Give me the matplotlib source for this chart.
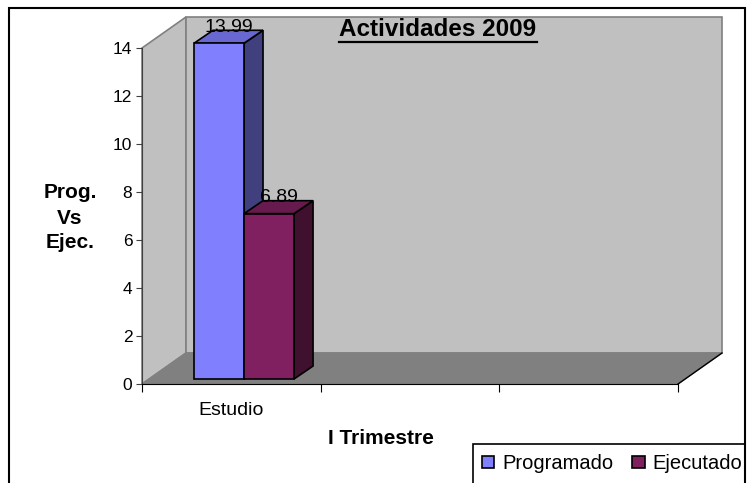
import matplotlib.pyplot as plt
from matplotlib.patches import Polygon, Rectangle, Patch
from matplotlib.lines import Line2D

plt.rcParams['font.family'] = ['Liberation Sans', 'DejaVu Sans']

categories = ['Estudio', '', '']
series = ['Programado', 'Ejecutado']
values = [[13.99], [6.89]]
front_cols = ['#8080ff', '#802060']
side_cols = ['#40407f', '#40102f']
top_cols = ['#6868d0', '#661a4d']
yticks = [0, 2, 4, 6, 8, 10, 12, 14]

W, H = 749, 483
fig = plt.figure(figsize=(W / 100, H / 100), dpi=100)
ax = fig.add_axes([142 / W, (H - 384) / H, 536 / W, 336 / H])
ax.set_xlim(0, 3)
ax.set_ylim(0, 14)

# depth of the 3d box in data units
ddx = 44 * 3 / 536
ddy = 31 / 24

# walls and floor
wall = dict(clip_on=False, edgecolor='#808080', lw=1.2)
ax.add_patch(Polygon([(0, 0), (0, 14), (ddx, 14 + ddy), (ddx, ddy)],
                     facecolor='#c0c0c0', zorder=0, **wall))
ax.add_patch(Polygon([(ddx, ddy), (ddx, 14 + ddy), (3 + ddx, 14 + ddy), (3 + ddx, ddy)],
                     facecolor='#c0c0c0', zorder=0, **wall))
ax.add_patch(Polygon([(0, 0), (3, 0), (3 + ddx, ddy), (ddx, ddy)],
                     facecolor='#808080', zorder=0.5, clip_on=False,
                     edgecolor='#808080', lw=1))
ax.plot([3, 3 + ddx], [0, ddy], color='black', lw=1, clip_on=False, zorder=1)

# 3d columns
bw = 0.28
bdx, bdy = 19 * 3 / 536, 0.54
base = 0.208
first = 0.291
for s in range(len(series)):
    for c, v in enumerate(values[s]):
        x0 = c + first + s * bw
        top = base + v
        ek = dict(edgecolor='black', lw=1.2, clip_on=False, zorder=2 + s)
        ax.add_patch(Polygon([(x0 + bw, base), (x0 + bw, top), (x0 + bw + bdx, top + bdy),
                              (x0 + bw + bdx, base + bdy)], facecolor=side_cols[s], **ek))
        ax.add_patch(Polygon([(x0, top), (x0 + bw, top), (x0 + bw + bdx, top + bdy),
                              (x0 + bdx, top + bdy)], facecolor=top_cols[s], **ek))
        ax.add_patch(Rectangle((x0, base), bw, v, facecolor=front_cols[s], **ek))
        ax.text(x0 + bw / 2 + bdx / 2, top + 0.66, '{:.2f}'.format(v), ha='center', va='center',
                fontsize=14, zorder=5, clip_on=False)

for sp in ['top', 'right']:
    ax.spines[sp].set_visible(False)
ax.spines['left'].set_color('#404040')
ax.spines['bottom'].set_color('black')
ax.spines['left'].set_zorder(1)
ax.set_facecolor('none')

ax.set_yticks(yticks)
ax.set_yticklabels([str(t) for t in yticks])
ax.tick_params(axis='y', direction='out', length=4, pad=3, labelsize=12.5, color='#404040')
ax.set_xticks([0, 1, 2, 3])
ax.set_xticklabels([])
ax.tick_params(axis='x', which='major', direction='out', length=6, color='black')
ax.set_xticks([0.5, 1.5, 2.5], minor=True)
ax.set_xticklabels(categories, minor=True)
ax.tick_params(axis='x', which='minor', length=0, pad=13, labelsize=14)

ax.set_xlabel('I Trimestre', fontsize=15, fontweight='bold')
ax.xaxis.set_label_coords(381 / 536 - 142 / 536, -(438 - 384) / 336)
ax.xaxis.label.set_va('center')

fig.text(70 / W, 1 - 218 / H, 'Prog.\nVs\nEjec.', ha='center', va='center',
         fontsize=15, fontweight='bold', linespacing=1.4)

title = fig.text(438 / W, 1 - 29 / H, 'Actividades 2009', ha='center', va='center',
                 fontsize=17.5, fontweight='bold')
fig.canvas.draw()
bb = title.get_window_extent()
uy = (H - 42) / H
fig.add_artist(Line2D([bb.x0 / W, bb.x1 / W], [uy, uy], color='black', lw=1.6,
                      transform=fig.transFigure))

# outer border
fig.add_artist(Rectangle((9 / W, -0.05), (745 - 9) / W, 1.05 - 8 / H, fill=False,
                         edgecolor='black', lw=1.5, transform=fig.transFigure))

# legend box (runs past the bottom edge like the original)
fig.add_artist(Rectangle((473 / W, -0.05), (745 - 473) / W, 0.05 + (H - 444) / H, fill=False,
                         edgecolor='black', lw=1.2, transform=fig.transFigure))
handles = [Patch(facecolor=front_cols[i], edgecolor='black', lw=1.2) for i in range(2)]
leg = fig.legend(handles, series, loc='upper left', bbox_to_anchor=(473 / W, 1 - 445 / H),
                 ncol=2, fontsize=14.5, frameon=False, borderpad=0.45,
                 handlelength=0.6, handleheight=0.6, handletextpad=0.4, columnspacing=0.95,
                 borderaxespad=0)

fig.savefig('out.png', dpi=100)
